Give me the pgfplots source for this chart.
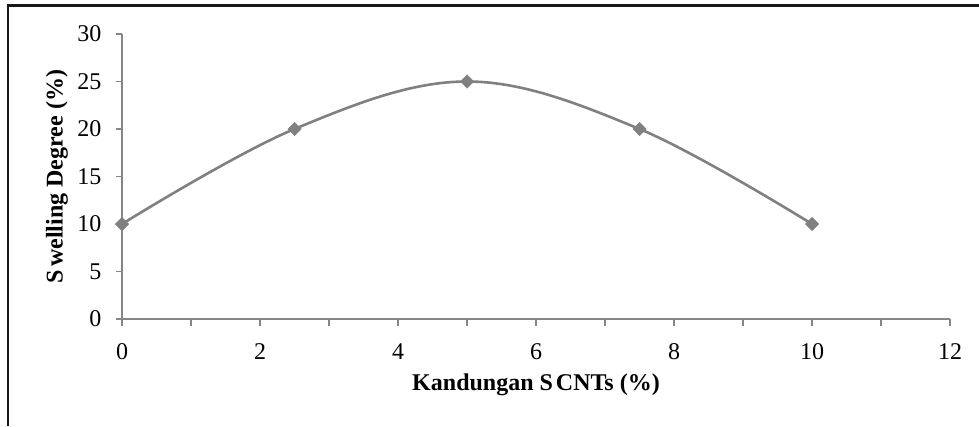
\documentclass[border=0pt]{standalone}
\usepackage{pgfplots}
\pgfplotsset{compat=1.18}
\usepackage{fontspec}
\setmainfont{Liberation Serif}
\definecolor{lgray}{RGB}{128,128,128}
\definecolor{agray}{RGB}{134,134,134}
\begin{document}
\begin{tikzpicture}[x=1bp,y=1bp]
\useasboundingbox (0,0) rectangle (979,426);
\draw[line width=2.2bp,black!90] (8,0) -- (8,420.5) -- (979,420.5);
\begin{axis}[
  at={(122bp,107bp)}, anchor=south west,
  scale only axis, width=828bp, height=285bp,
  xmin=0, xmax=12, ymin=0, ymax=30,
  axis x line=bottom, axis y line=left,
  axis line style={-, agray, line width=2bp},
  xtick={0,2,...,12}, minor xtick={1,3,...,11},
  ytick={0,5,...,30},
  tick align=outside,
  major tick length=6.5bp, minor tick length=6.5bp,
  every tick/.style={agray, line width=1.5bp},
  every minor tick/.style={agray, line width=1.5bp},
  /pgf/number format/assume math mode=true,
  ticklabel style={font=\fontsize{24bp}{28bp}\selectfont, inner sep=0pt},
  xticklabel style={anchor=north, yshift=-18bp},
  yticklabel style={anchor=east, xshift=-14bp},
  xlabel={\textbf{Kandungan S\hspace{3bp}CNTs (\%)}},
  ylabel={\textbf{S\hspace{3bp}welling Degree (\%)}},
  label style={font=\fontsize{24bp}{28bp}\selectfont},
  xlabel style={at={(axis description cs:0.5,0)}, anchor=base, yshift=-71bp},
  ylabel style={at={(axis description cs:-0.0785,0.5)}, anchor=center},
  clip=false,
]
\addplot[lgray, line width=2.6bp, smooth, tension=0.6, mark=square*, mark size=4.7bp,
  mark options={fill=lgray, draw=lgray, line width=0.5bp, rotate=45}]
  coordinates {(0,10) (2.5,20) (5,25) (7.5,20) (10,10)};
\end{axis}
\end{tikzpicture}
\end{document}
